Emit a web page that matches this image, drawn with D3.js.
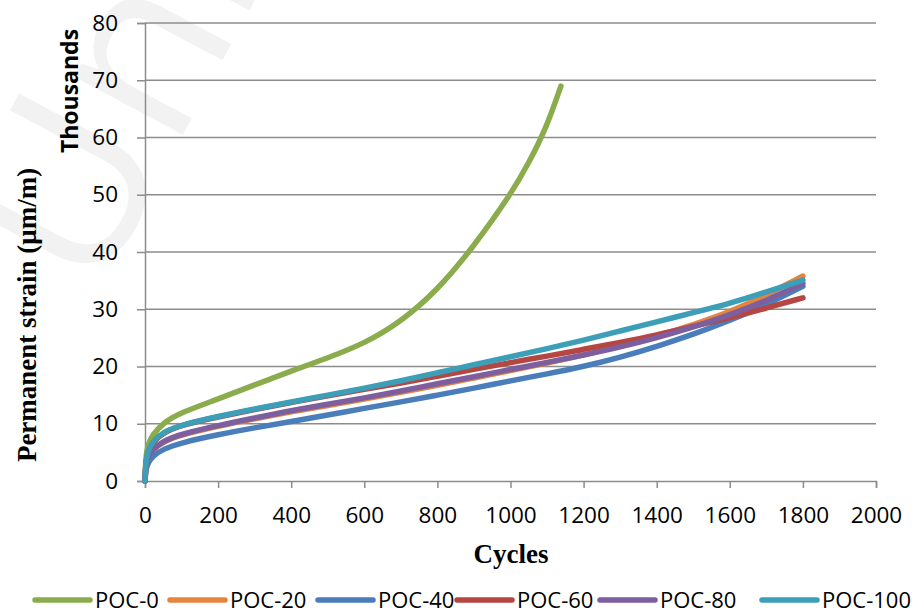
<!DOCTYPE html>
<html>
<head>
<meta charset="utf-8">
<script src="https://cdn.jsdelivr.net/npm/d3@7"></script>
<style>
  body { margin: 0; background: #fff; }
  .tick text { font-family: "Open Sans", "Noto Sans", sans-serif; font-size: 22.5px; fill: #000; }
</style>
</head>
<body>
<div id="chart"></div>
<script>
var cycles = [0, 2, 5, 10, 20, 50, 100, 200, 300, 400, 500, 600, 700, 800, 900, 1000, 1100, 1200, 1300, 1400, 1500, 1600, 1700, 1800];

// POC-0 stops early, so it has its own cycle list
var cycles0 = [0, 2, 5, 10, 20, 50, 100, 200, 300, 400, 500, 600, 700, 800, 900, 1000, 1050, 1100, 1138];
var poc0   = [0, 3.8, 5.3, 6.6, 8, 10.2, 12, 14.3, 16.8, 19.2, 21.5, 24, 27.8, 33.3, 41, 50, 55.5, 62, 69];

var poc20  = [0, 2.3, 3.3, 4.3, 5.4, 6.9, 8.1, 9.6, 10.9, 12.1, 13.2, 14.3, 15.5, 16.7, 18, 19.3, 20.6, 22, 23.6, 25.3, 27.3, 29.5, 32.5, 35.8];
var poc40  = [0, 1.7, 2.5, 3.3, 4.3, 5.6, 6.7, 8.1, 9.3, 10.4, 11.5, 12.7, 13.8, 15, 16.2, 17.5, 18.7, 20, 21.6, 23.5, 25.6, 28, 30.8, 34];
var poc60  = [0, 3, 4.2, 5.4, 6.7, 8.5, 9.8, 11.2, 12.5, 13.7, 14.9, 16, 17.1, 18.3, 19.5, 20.7, 21.8, 23, 24.2, 25.5, 27, 28.5, 30.2, 32];
var poc80  = [0, 2.4, 3.4, 4.4, 5.5, 7, 8.2, 9.7, 11, 12.3, 13.4, 14.5, 15.7, 17, 18.2, 19.5, 20.7, 22, 23.4, 25, 26.9, 29, 31.5, 34.5];
var poc100 = [0, 3, 4.3, 5.5, 6.8, 8.6, 9.8, 11.3, 12.6, 13.8, 15, 16.2, 17.5, 18.9, 20.3, 21.7, 23.1, 24.6, 26.2, 27.8, 29.4, 31, 33, 35.1];

var seriesNames = ["POC-0", "POC-20", "POC-40", "POC-60", "POC-80", "POC-100"];
var colors = ["#8AAC4C", "#E5843C", "#4A7EBB", "#B64642", "#7D5FA0", "#3D9EB8"];

var xTicks = [0, 200, 400, 600, 800, 1000, 1200, 1400, 1600, 1800, 2000];
var yTicks = [0, 10, 20, 30, 40, 50, 60, 70, 80];

var width = 918, height = 613;
var plotLeft = 145, plotRight = 876, plotTop = 23, plotBottom = 481;

var svg = d3.select("#chart").append("svg")
    .attr("width", width)
    .attr("height", height);

// faint watermark in the background
svg.append("text")
    .attr("transform", "translate(95,300)rotate(-62)")
    .style("font-family", "Open Sans, sans-serif")
    .style("font-size", "230px")
    .style("fill", "#f2f2f2")
    .text("Unive");

var x = d3.scaleLinear().domain([0, 2000]).range([plotLeft, plotRight]);
var y = d3.scaleLinear().domain([0, 80]).range([plotBottom, plotTop]);

// gridlines
svg.append("g")
    .selectAll("line")
    .data(yTicks.slice(1))
  .enter().append("line")
    .attr("x1", plotLeft).attr("x2", plotRight)
    .attr("y1", function(d) { return y(d); })
    .attr("y2", function(d) { return y(d); })
    .attr("stroke", "#8c8c8c")
    .attr("stroke-width", 1.5);

var xAxis = svg.append("g")
    .attr("transform", "translate(0," + plotBottom + ")")
    .call(d3.axisBottom(x).tickValues(xTicks).tickSize(7).tickPadding(19).tickFormat(d3.format("d")));

var yAxis = svg.append("g")
    .attr("transform", "translate(" + plotLeft + ",0)")
    .call(d3.axisLeft(y).tickValues(yTicks).tickSize(8).tickPadding(19).tickFormat(d3.format("d")));

[xAxis, yAxis].forEach(function(a) {
  a.select(".domain").attr("stroke", "#8c8c8c").attr("stroke-width", 1.5);
  a.selectAll(".tick line").attr("stroke", "#8c8c8c").attr("stroke-width", 1.5);
});

var line = d3.line()
    .x(function(d) { return x(d[0]); })
    .y(function(d) { return y(d[1]); })
    .curve(d3.curveBasis);

var series = [
  d3.zip(cycles0, poc0),
  d3.zip(cycles, poc20),
  d3.zip(cycles, poc40),
  d3.zip(cycles, poc60),
  d3.zip(cycles, poc80),
  d3.zip(cycles, poc100)
];

svg.append("g")
    .selectAll("path")
    .data(series)
  .enter().append("path")
    .attr("d", line)
    .attr("fill", "none")
    .attr("stroke", function(d, i) { return colors[i]; })
    .attr("stroke-width", 5.5)
    .attr("stroke-linecap", "round")
    .attr("stroke-linejoin", "round");

// axis titles
svg.append("text")
    .attr("x", 511).attr("y", 563)
    .attr("text-anchor", "middle")
    .style("font-family", "Liberation Serif, serif")
    .style("font-weight", "bold")
    .style("font-size", "27px")
    .text("Cycles");

svg.append("text")
    .attr("transform", "translate(36,315)rotate(-90)")
    .attr("text-anchor", "middle")
    .style("font-family", "Liberation Serif, serif")
    .style("font-weight", "bold")
    .style("font-size", "27px")
    .text("Permanent strain (μm/m)");

svg.append("text")
    .attr("transform", "translate(78,91)rotate(-90)")
    .attr("text-anchor", "middle")
    .style("font-family", "Open Sans, sans-serif")
    .style("font-weight", "bold")
    .style("font-size", "23px")
    .text("Thousands");

// legend
var legendX = [35, 170, 318, 457, 600, 762];
var legend = svg.append("g")
    .selectAll("g")
    .data(seriesNames)
  .enter().append("g")
    .attr("transform", function(d, i) { return "translate(" + legendX[i] + ",600)"; });

legend.append("line")
    .attr("x1", 0).attr("x2", 55)
    .attr("stroke", function(d, i) { return colors[i]; })
    .attr("stroke-width", 5.5)
    .attr("stroke-linecap", "round");

legend.append("text")
    .attr("x", 60).attr("dy", "0.36em")
    .style("font-family", "Open Sans, sans-serif")
    .style("font-size", "22px")
    .text(function(d) { return d; });
</script>
</body>
</html>
